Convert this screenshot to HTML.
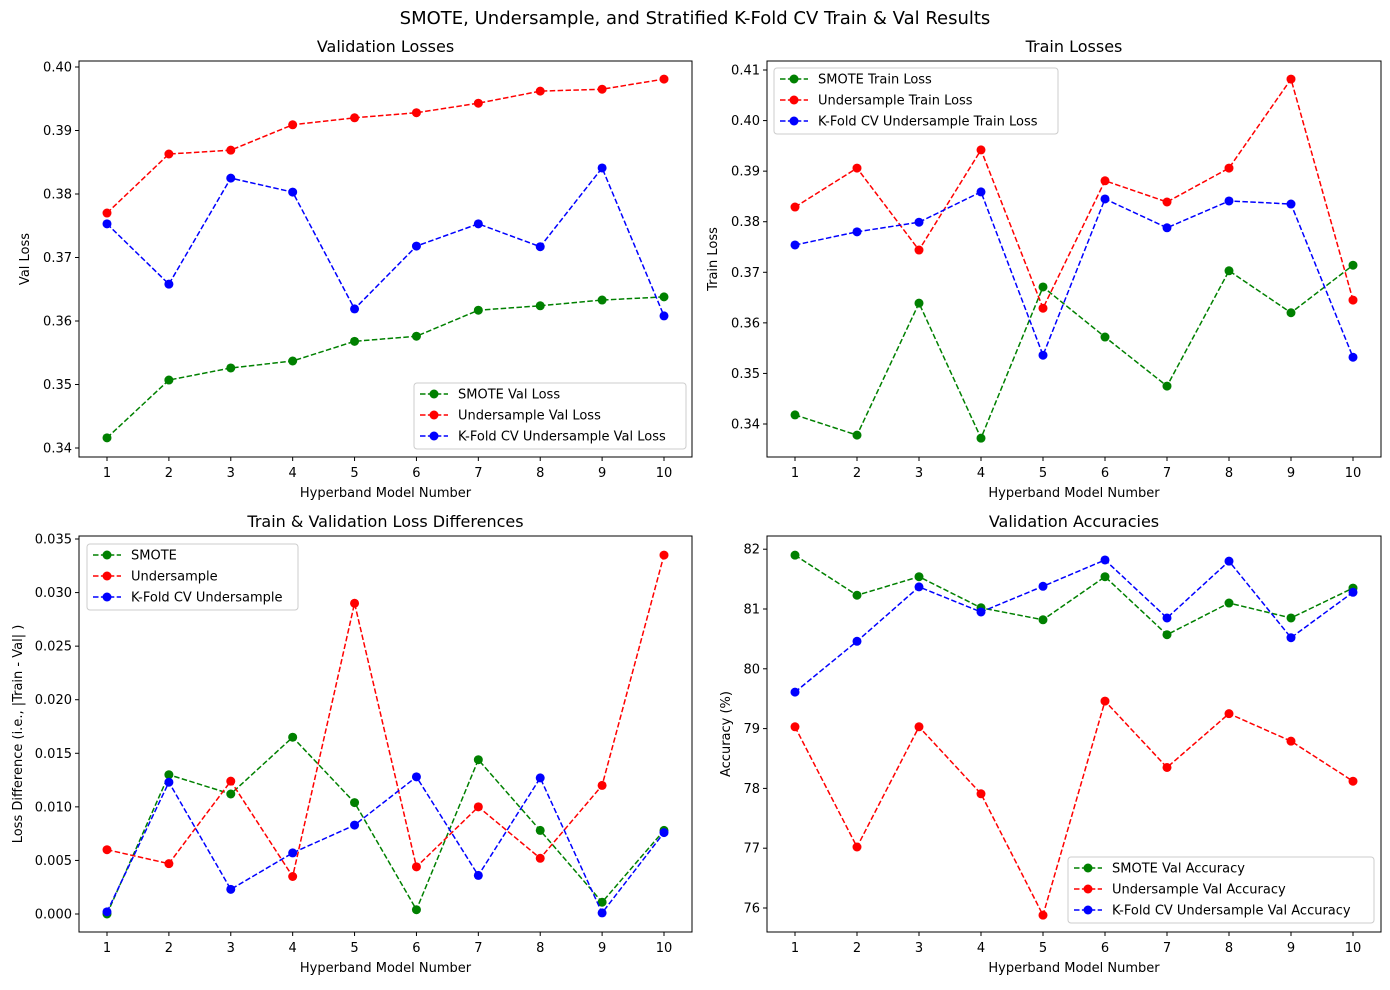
<!DOCTYPE html>
<html><head><meta charset="utf-8"><style>
body{margin:0;background:#fff;}
svg text{font-family:"DejaVu Sans","Liberation Sans",sans-serif;fill:#000;}
</style></head><body>
<svg id="fig" width="1390" height="985" xmlns="http://www.w3.org/2000/svg">
<rect width="1390" height="985" fill="#fff"/>
<text x="695" y="24" font-size="18" text-anchor="middle">SMOTE, Undersample, and Stratified K-Fold CV Train &amp; Val Results</text>
</svg>
<script>
const models=[1,2,3,4,5,6,7,8,9,10];
const valSmote=[0.3416,0.3507,0.3526,0.3537,0.3568,0.3576,0.3617,0.3624,0.3633,0.3638];
const valUnder=[0.3770,0.3863,0.3869,0.3909,0.3920,0.3928,0.3943,0.3962,0.3965,0.3981];
const valKfold=[0.3753,0.3658,0.3825,0.3803,0.3619,0.3718,0.3753,0.3717,0.3841,0.3608];
const trSmote=[0.3418,0.3378,0.3639,0.3372,0.3671,0.3572,0.3475,0.3703,0.3620,0.3714];
const trUnder=[0.3829,0.3906,0.3744,0.3942,0.3629,0.3881,0.3839,0.3906,0.4082,0.3645];
const trKfold=[0.3754,0.3780,0.3799,0.3859,0.3536,0.3845,0.3788,0.3841,0.3835,0.3532];
const dSmote=[0.0000,0.0130,0.0112,0.0165,0.0104,0.0004,0.0144,0.0078,0.0011,0.0078];
const dUnder=[0.0060,0.0047,0.0124,0.0035,0.0290,0.0044,0.0100,0.0052,0.0120,0.0335];
const dKfold=[0.0002,0.0123,0.0023,0.0057,0.0083,0.0128,0.0036,0.0127,0.0001,0.0076];
const aSmote=[81.90,81.23,81.54,81.02,80.82,81.54,80.57,81.10,80.85,81.35];
const aUnder=[79.03,77.02,79.03,77.91,75.88,79.46,78.35,79.25,78.79,78.12];
const aKfold=[79.61,80.46,81.37,80.95,81.38,81.82,80.85,81.80,80.52,81.28];
const ticks1=["0.34","0.35","0.36","0.37","0.38","0.39","0.40"];
const ticks2=["0.34","0.35","0.36","0.37","0.38","0.39","0.40","0.41"];
const ticks3=["0.000","0.005","0.010","0.015","0.020","0.025","0.030","0.035"];
const ticks4=["76","77","78","79","80","81","82"];

const svg=document.getElementById('fig');
const NS='http://www.w3.org/2000/svg';
function mk(tag,attrs,parent){const e=document.createElementNS(NS,tag);for(const k in attrs)e.setAttribute(k,attrs[k]);(parent||svg).appendChild(e);return e;}

const panels=[
 {name:'validation-losses',title:'Validation Losses',ylab:'Val Loss',x0:79,x1:692,y0:61,y1:457,v0:0.34,p0:448,ppu:6350,ticks:ticks1,
  series:[[valSmote,'green','SMOTE Val Loss'],[valUnder,'red','Undersample Val Loss'],[valKfold,'blue','K-Fold CV Undersample Val Loss']],
  leg:[414,383,272]},
 {name:'train-losses',title:'Train Losses',ylab:'Train Loss',x0:767,x1:1381,y0:61,y1:457,v0:0.34,p0:424,ppu:5057,ticks:ticks2,
  series:[[trSmote,'green','SMOTE Train Loss'],[trUnder,'red','Undersample Train Loss'],[trKfold,'blue','K-Fold CV Undersample Train Loss']],
  leg:[774,68,284]},
 {name:'loss-differences',title:'Train & Validation Loss Differences',ylab:'Loss Difference (i.e., |Train - Val| )',x0:79,x1:692,y0:536,y1:932,v0:0,p0:914,ppu:10714,ticks:ticks3,
  series:[[dSmote,'green','SMOTE'],[dUnder,'red','Undersample'],[dKfold,'blue','K-Fold CV Undersample']],
  leg:[87,544,211]},
 {name:'validation-accuracies',title:'Validation Accuracies',ylab:'Accuracy (%)',x0:767,x1:1381,y0:536,y1:932,v0:76,p0:908,ppu:59.8,ticks:ticks4,
  series:[[aSmote,'green','SMOTE Val Accuracy'],[aUnder,'red','Undersample Val Accuracy'],[aKfold,'blue','K-Fold CV Undersample Val Accuracy']],
  leg:[1068,857,306]}
];

panels.forEach(p=>{
 const g=mk('g',{});
 
 
 const xs=(p.x1-p.x0-56)/9;
 const X=m=>p.x0+28+(m-1)*xs;
 const Y=v=>p.p0-(v-p.v0)*p.ppu;
 const t=mk('text',{x:(p.x0+p.x1)/2,y:p.y0-9,'font-size':16,'text-anchor':'middle'},g);t.textContent=p.title;
 
 p.ticks.forEach(s=>{const y=Y(parseFloat(s));
  mk('line',{x1:p.x0-4,x2:p.x0,y1:y,y2:y,stroke:'#000','stroke-width':1},g);
  const tt=mk('text',{x:p.x0-7,y:y+4.5,'font-size':13,'text-anchor':'end'},g);tt.textContent=s;
  });
 models.forEach(m=>{const x=X(m);
  mk('line',{x1:x,x2:x,y1:p.y1,y2:p.y1+4,stroke:'#000','stroke-width':1},g);
  const tt=mk('text',{x:x,y:p.y1+20,'font-size':13,'text-anchor':'middle'},g);tt.textContent=m;
  });
 const xl=mk('text',{x:(p.x0+p.x1)/2,y:p.y1+40,'font-size':13,'text-anchor':'middle'},g);xl.textContent='Hyperband Model Number';
 
 const yc=(p.y0+p.y1)/2, yx=p.name==='loss-differences'?22:(p.name==='validation-accuracies'?p.x0-37:p.x0-50);
 const yl=mk('text',{x:yx,y:yc,'font-size':13,'text-anchor':'middle',transform:`rotate(-90 ${yx} ${yc})`},g);yl.textContent=p.ylab;
 
 p.series.forEach(([d,c,lab])=>{
  const pl=mk('polyline',{points:d.map((v,i)=>X(models[i])+','+Y(v)).join(' '),fill:'none',stroke:c,'stroke-width':1.5,'stroke-dasharray':'5.5,2.4'},g);
  
  d.forEach((v,i)=>{const pt=mk('circle',{cx:X(models[i]),cy:Y(v),r:4.5,fill:c},g);
   });
 });
 const box=mk('rect',{x:p.x0,y:p.y0,width:p.x1-p.x0,height:p.y1-p.y0,fill:'none',stroke:'#000','stroke-width':1},g);
 
 const [lx,ly,lw]=p.leg;
 const lg=mk('g',{},g);
 
 mk('rect',{x:lx,y:ly,width:lw,height:66,rx:3,fill:'#fff','fill-opacity':0.8,stroke:'#ccc'},lg);
 p.series.forEach(([d,c,lab],i)=>{const yy=ly+11+i*21;
  mk('line',{x1:lx+6,x2:lx+34,y1:yy,y2:yy,stroke:c,'stroke-width':1.5,'stroke-dasharray':'5.5,2.4'},lg);
  mk('circle',{cx:lx+20,cy:yy,r:4.5,fill:c},lg);
  const lt=mk('text',{x:lx+44,y:yy+4.5,'font-size':13},lg);lt.textContent=lab;
  });
});
</script>
</body></html>
